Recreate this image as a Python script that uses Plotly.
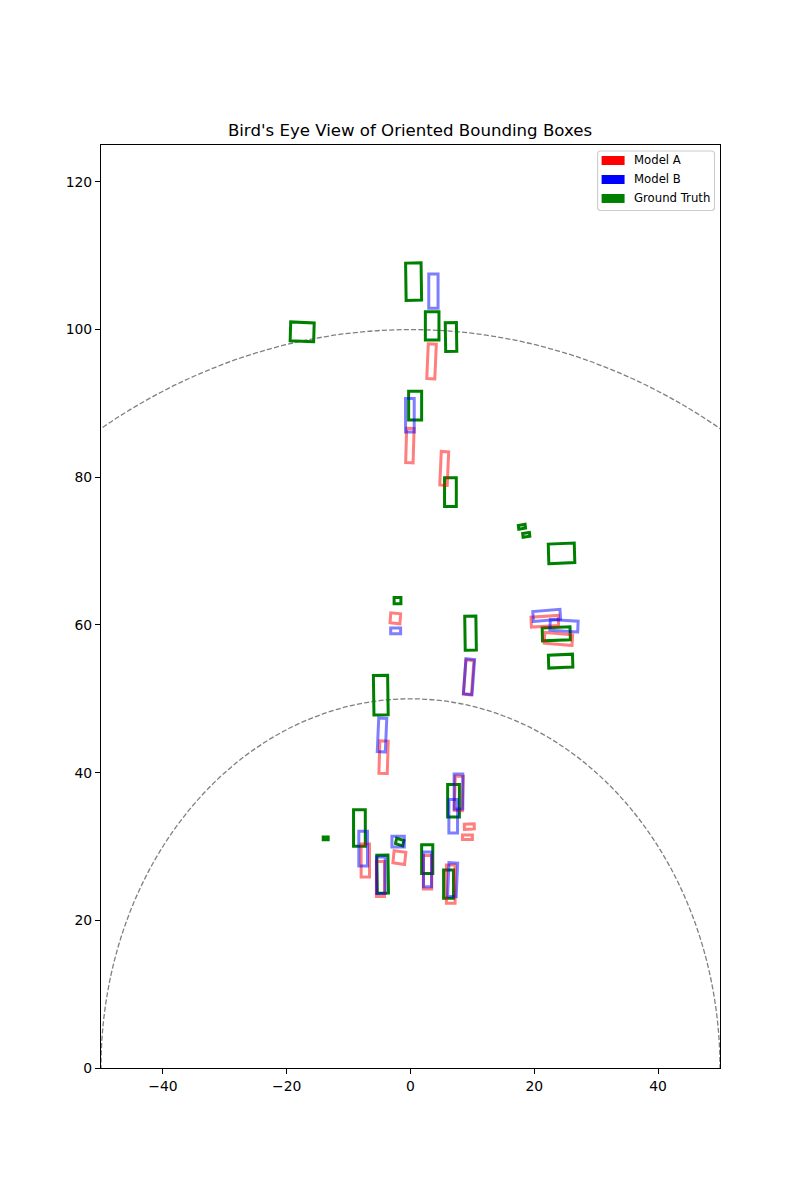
import math
import plotly.graph_objects as go

# Each box: centre x, centre y, width, length, tilt in degrees
model_a_cx = [3.4, -0.1, 5.45, 21.7, 23.9, -2.45, 9.4, -4.35, 7.8, 9.5, 9.2, -7.3, -4.85, -1.8, 2.75, 6.5]
model_a_cy = [95.7, 84.3, 81.2, 60.5, 58.1, 60.9, 52.9, 42.1, 37.2, 32.7, 31.25, 28.1, 25.6, 28.5, 26.5, 24.9]
model_a_w = [1.3, 1.2, 1.2, 4.4, 4.5, 1.6, 1.3, 1.35, 1.3, 1.6, 1.6, 1.35, 1.3, 1.9, 1.35, 1.4]
model_a_l = [4.7, 4.65, 4.55, 1.35, 1.45, 1.35, 4.65, 4.4, 4.65, 0.7, 0.6, 4.45, 4.75, 1.65, 4.55, 5.15]
model_a_tilt = [-3, -2, -3, 3, -4, -5, -5, -2, -2, 2, 0, 0, 0, -7, 0, 0]

model_b_cx = [3.7, -0.1, 22.0, 24.8, -2.4, 9.45, -4.6, 7.75, 6.9, -7.65, -4.8, -2.0, 2.75, 6.8]
model_b_cy = [105.2, 88.4, 61.3, 59.9, 59.2, 53.0, 45.1, 37.45, 34.1, 29.7, 26.1, 30.65, 26.9, 25.5]
model_b_w = [1.5, 1.4, 4.4, 4.5, 1.6, 1.4, 1.3, 1.4, 1.4, 1.4, 1.4, 2.0, 1.3, 1.4]
model_b_l = [4.65, 4.55, 1.35, 1.45, 0.8, 4.75, 4.55, 4.75, 4.55, 4.7, 4.95, 1.45, 4.7, 4.55]
model_b_tilt = [0, 0, 4, -3, 0, -5, -3, 0, 0, 0, 0, 0, 0, -3]

truth_cx = [0.5, 3.5, 6.55, -17.5, 0.75, 6.45, 24.4, 18.0, 18.7, 23.55, 24.25, -2.1, 9.7, -4.8, -8.25, -4.5, -1.75, 2.7, 6.15, 6.95, -13.7]
truth_cy = [106.5, 100.5, 99.0, 99.7, 89.7, 78.0, 69.7, 73.3, 72.2, 58.8, 55.1, 63.3, 58.9, 50.5, 32.5, 26.25, 30.6, 28.3, 24.9, 36.2, 31.1]
truth_w = [2.5, 2.2, 1.8, 3.8, 2.1, 1.9, 4.2, 1.1, 1.1, 4.5, 3.9, 1.1, 1.8, 2.3, 1.9, 1.8, 1.2, 1.8, 1.6, 1.9, 0.8]
truth_l = [5.05, 3.85, 3.9, 2.55, 3.9, 3.9, 2.65, 0.5, 0.5, 1.75, 1.75, 0.85, 4.6, 5.35, 4.95, 5.15, 0.75, 3.9, 3.85, 4.4, 0.4]
truth_tilt = [1, 0, 1, -2, 0, 0, 2, 8, 8, 2, 2, 0, 1, 1, 0, 1, -15, 0, 0, 0, 0]

# Drawn back to front: the ground truth lies under the two models in the reference
series = [
    ("Ground Truth", "green", 1.0, truth_cx, truth_cy, truth_w, truth_l, truth_tilt),
    ("Model A", "red", 0.5, model_a_cx, model_a_cy, model_a_w, model_a_l, model_a_tilt),
    ("Model B", "blue", 0.5, model_b_cx, model_b_cy, model_b_w, model_b_l, model_b_tilt),
]
legend_names = ["Model A", "Model B", "Ground Truth"]
legend_colors = ["red", "blue", "green"]
ring_radii = [50, 100]
x_ticks = [-40, -20, 0, 20, 40]
y_ticks = [0, 20, 40, 60, 80, 100, 120]

M_L, M_R, M_T, M_B = 100.5, 80, 144.5, 132
W, H = 800, 1200


def outline(cx, cy, w, l, tilt):
    t = math.radians(tilt)
    xs, ys = [], []
    # the second corner is repeated so the first corner gets a proper join
    for sx, sy in [(-1, -1), (1, -1), (1, 1), (-1, 1), (-1, -1), (1, -1)]:
        dx, dy = sx * w / 2, sy * l / 2
        xs.append(cx + dx * math.cos(t) - dy * math.sin(t))
        ys.append(cy + dx * math.sin(t) + dy * math.cos(t))
    return xs, ys


def px(x):
    return (x - M_L) / (W - M_L - M_R)


def py(y):
    return (H - M_B - y) / (H - M_T - M_B)


fig = go.Figure()
for name, color, alpha, cxs, cys, ws, ls, tilts in series:
    for box in zip(cxs, cys, ws, ls, tilts):
        xs, ys = outline(*box)
        fig.add_trace(go.Scatter(
            x=xs, y=ys, mode="lines", opacity=alpha, name=name, showlegend=False, hoverinfo="skip",
            line=dict(color=color, width=3, shape="linear"),
        ))

for r in ring_radii:
    fig.add_shape(type="circle", xref="x", yref="y", x0=-r, x1=r, y0=-r, y1=r,
                  line=dict(color="gray", width=1.3, dash="5.1px,2.2px"), layer="below")

# legend panel, with the reference's wide filled swatches
lx0, lx1, ly0, ly1, rad = 597.5, 714.5, 150.5, 210, 3
fig.add_shape(
    type="path", xref="paper", yref="paper", layer="above",
    path=(f"M {px(lx0 + rad)} {py(ly0)} L {px(lx1 - rad)} {py(ly0)} Q {px(lx1)} {py(ly0)} {px(lx1)} {py(ly0 + rad)} "
          f"L {px(lx1)} {py(ly1 - rad)} Q {px(lx1)} {py(ly1)} {px(lx1 - rad)} {py(ly1)} "
          f"L {px(lx0 + rad)} {py(ly1)} Q {px(lx0)} {py(ly1)} {px(lx0)} {py(ly1 - rad)} "
          f"L {px(lx0)} {py(ly0 + rad)} Q {px(lx0)} {py(ly0)} {px(lx0 + rad)} {py(ly0)} Z"),
    line=dict(color="#cccccc", width=1.1), fillcolor="rgba(255,255,255,0.8)",
)
for i, (lname, lcolor) in enumerate(zip(legend_names, legend_colors)):
    yc = 160 + i * 19
    fig.add_shape(type="rect", xref="paper", yref="paper", layer="above",
                  x0=px(601.5), x1=px(624.5), y0=py(yc - 4.5), y1=py(yc + 4.5),
                  line=dict(width=0), fillcolor=lcolor)
    fig.add_annotation(xref="paper", yref="paper", x=px(634), y=py(yc), xanchor="left", yanchor="middle",
                       text=lname, showarrow=False, font=dict(size=11.7, color="black"),
                       borderpad=0, borderwidth=0)

fig.update_layout(
    width=W, height=H, autosize=False,
    margin=dict(l=M_L, r=M_R, t=M_T, b=M_B, pad=0),
    paper_bgcolor="white", plot_bgcolor="white", showlegend=False,
    font=dict(family="DejaVu Sans", size=13.9, color="black"),
    title=dict(text="Bird's Eye View of Oriented Bounding Boxes", x=0.5125, xanchor="center",
               y=1 - 130 / 1200, yanchor="middle", font=dict(size=16.6, color="black")),
    xaxis=dict(range=[-50, 50], tickvals=x_ticks, showgrid=False, zeroline=False, showline=True,
               mirror=True, linecolor="black", linewidth=1.1, ticks="outside", ticklen=5, tickwidth=1.1,
               tickcolor="black"),
    yaxis=dict(range=[0, 125], tickvals=y_ticks, showgrid=False, zeroline=False, showline=True,
               mirror=True, linecolor="black", linewidth=1.1, ticks="outside", ticklen=5, tickwidth=1.1,
               tickcolor="black"),
)
fig.write_html("out.html", config={"displayModeBar": False}, post_script="document.body.style.margin='0';")
